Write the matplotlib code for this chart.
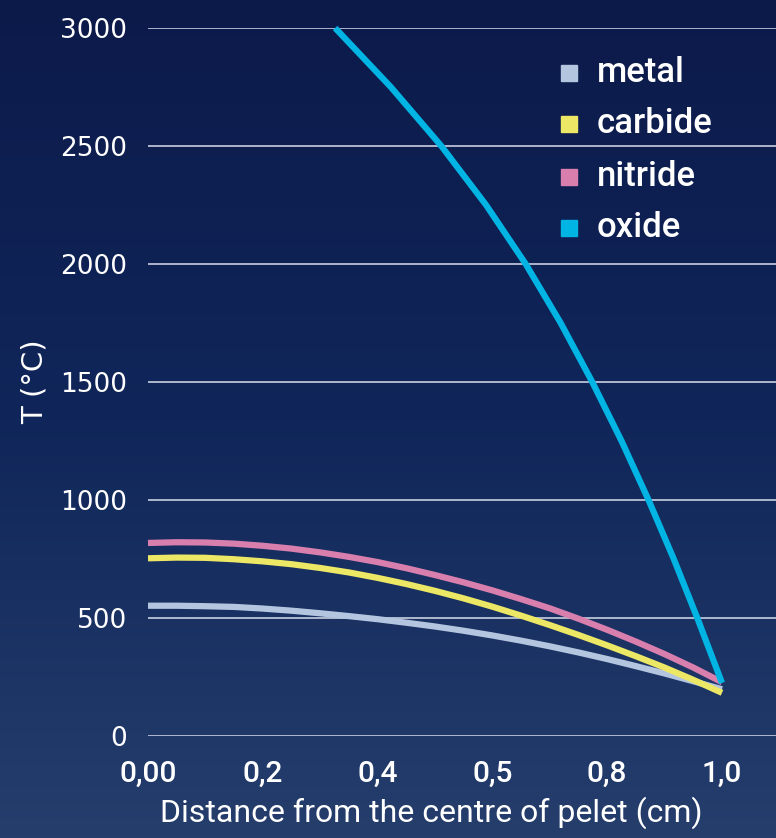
import numpy as np
import matplotlib
matplotlib.use("Agg")
import matplotlib.pyplot as plt
from matplotlib.colors import LinearSegmentedColormap

plt.rcParams["font.family"] = ["Roboto", "DejaVu Sans"]
plt.rcParams["font.weight"] = "medium"

# values (r in cm, T in degC)
r_pos = [0.0, 0.05, 0.1, 0.15, 0.2, 0.25, 0.3, 0.35, 0.4, 0.45, 0.5,
         0.55, 0.6, 0.65, 0.7, 0.75, 0.8, 0.85, 0.9, 0.95, 1.0]
metal = [552, 552, 550, 547, 540, 531, 520, 508, 495, 480, 464,
         446, 426, 404, 380, 354, 326, 296, 265, 232, 198]
carbide = [753, 756, 755, 749, 740, 728, 712, 693, 670, 644, 615,
           583, 548, 510, 470, 428, 384, 338, 290, 238, 183]
nitride = [818, 821, 820, 815, 806, 794, 778, 759, 737, 711, 682,
           651, 617, 580, 541, 497, 450, 400, 347, 290, 228]

oxide_r = [0.326, 0.423, 0.511, 0.589, 0.658, 0.719, 0.774, 0.825,
           0.872, 0.916, 0.957, 1.0]
oxide = [3000, 2750, 2500, 2250, 2000, 1750, 1500, 1250, 1000, 750, 500, 225]

xtick_pos = [0.0, 0.2, 0.4, 0.6, 0.8, 1.0]
xtick_lab = ["0,00", "0,2", "0,4", "0,5", "0,8", "1,0"]
ytick_pos = [0, 500, 1000, 1500, 2000, 2500, 3000]

names = ["metal", "carbide", "nitride", "oxide"]
colors = ["#b4c6df", "#ece764", "#d97fae", "#00b4e3"]

W, H = 776, 838
fig = plt.figure(figsize=(W / 100, H / 100), dpi=100)

# background gradient
bg = fig.add_axes([0, 0, 1, 1], zorder=-10)
cmap = LinearSegmentedColormap.from_list("bg", ["#0c1a4a", "#10265a", "#253e6c"])
grad = np.linspace(0, 1, 256).reshape(-1, 1)
bg.imshow(grad, aspect="auto", cmap=cmap, extent=[0, 1, 0, 1], origin="upper")
bg.axis("off")

x0, x1 = 148, 722
y0, y1 = 736, 28
ax = fig.add_axes([x0 / W, (H - y0) / H, (W - x0) / W, (y0 - y1) / H])
ax.patch.set_alpha(0)
ax.set_xlim(0, (W - x0) / (x1 - x0))
ax.set_ylim(0, 3000)

for vals, col in zip([metal, carbide, nitride], colors[:3]):
    ax.plot(r_pos, vals, color=col, lw=4.5, solid_capstyle="butt",
            solid_joinstyle="round", clip_on=False)
ax.plot(oxide_r, oxide, color=colors[3], lw=4.5, solid_capstyle="butt",
        solid_joinstyle="round", clip_on=False)

for s in ax.spines.values():
    s.set_visible(False)
ax.set_yticks(ytick_pos)
ax.set_xticks(xtick_pos)
ax.set_xticklabels(xtick_lab)
ax.tick_params(length=0, colors="white")
ax.tick_params(axis="y", pad=15, labelsize=19)
ax.tick_params(axis="x", pad=17, labelsize=21.5)
for t in ax.get_yticklabels():
    t.set_family("DejaVu Sans")
ax.grid(axis="y", color="#c8cfe0", lw=1.2)
ax.set_axisbelow(True)

ax.set_ylabel("T (°C)", color="white", fontsize=21, labelpad=8, family="DejaVu Sans")
ax.set_xlabel("Distance from the centre of pelet (cm)", color="white",
              fontsize=23, labelpad=10)
ax.xaxis.set_label_coords(0.451, -0.085)

# legend drawn by hand: square markers and labels
leg_y = [0.937, 0.864, 0.790, 0.718]
for name, col, yy in zip(names, colors, leg_y):
    ax.plot([0.670], [yy], transform=ax.transAxes, marker="s", ls="none",
            color=col, markersize=12, clip_on=False)
    ax.text(0.715, yy - 0.0127, name, transform=ax.transAxes, color="white",
            fontsize=25, va="baseline", ha="left")

fig.savefig("out.png", dpi=100)
